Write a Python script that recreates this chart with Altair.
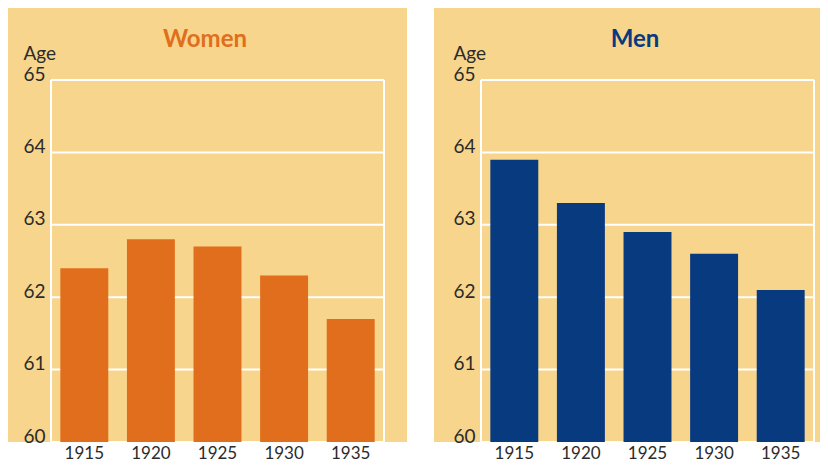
import altair as alt
import pandas as pd

years = ["1915", "1920", "1925", "1930", "1935"]
women = [62.4, 62.8, 62.7, 62.3, 61.7]
men = [63.9, 63.3, 62.9, 62.6, 62.1]
y_ticks = [60, 61, 62, 63, 64, 65]

BG = "#F7D58C"
TEXT = "#2B2B2B"
FONT = "Lato"
W, H = 333, 362


def panel(values, title, color, bg_left, bg_right):
    df = pd.DataFrame({"year": years, "age": values})
    grid_df = pd.DataFrame({"age": y_ticks})
    one = pd.DataFrame({"k": [0]})

    yscale = alt.Scale(domain=[60, 65], zero=False, nice=False)
    yaxis = alt.Axis(
        values=y_ticks, format="d", grid=False, domain=False, ticks=False, tickSize=0,
        labelPadding=6, labelBaseline="alphabetic", labelFlush=False,
        labelFont=FONT, labelFontSize=19, labelColor=TEXT,
        title="Age", titleAngle=0, titleAlign="left", titleBaseline="alphabetic",
        titleX=-28, titleY=-21, titleFont=FONT, titleFontSize=19,
        titleFontWeight="normal", titleColor=TEXT, zindex=2,
    )

    bg = alt.Chart(one).mark_rect(color=BG).encode(
        x=alt.value(bg_left), x2=alt.value(W + bg_right),
        y=alt.value(-72), y2=alt.value(H),
    )
    grid = alt.Chart(grid_df).mark_rule(color="white", strokeWidth=2).encode(
        y=alt.Y("age:Q", scale=yscale, axis=yaxis),
        x=alt.value(0), x2=alt.value(W),
    )
    border = alt.Chart(pd.DataFrame({"xp": [0, W]})).mark_rule(color="white", strokeWidth=2).encode(
        x=alt.X("xp:Q", scale=None), y=alt.value(0), y2=alt.value(H),
    )
    bars = alt.Chart(df).mark_bar(color=color).encode(
        x=alt.X("year:N", sort=years,
                scale=alt.Scale(paddingInner=0.28, paddingOuter=0.14),
                axis=alt.Axis(title=None, labelAngle=0, domain=False, ticks=False,
                              labelPadding=3, labelFont=FONT, labelFontSize=17,
                              labelColor=TEXT, zindex=2)),
        y=alt.Y("age:Q", scale=yscale, axis=yaxis),
        y2=alt.datum(60),
    )
    ttl = alt.Chart(one).mark_text(
        text=title, font=FONT, fontSize=24, fontWeight="bold", color=color,
        align="center", baseline="alphabetic",
    ).encode(x=alt.value(154), y=alt.value(-33))

    return alt.layer(bg, grid, border, bars, ttl).properties(width=W, height=H)


left = panel(women, "Women", "#E06E1C", -43, 23)
right = panel(men, "Men", "#083A80", -47, 6)

chart = alt.hconcat(left, right, spacing=27).properties(
    padding=0, background="white"
).configure_view(stroke=None)

chart.save("out.html", embed_options={"renderer": "svg", "actions": False})
